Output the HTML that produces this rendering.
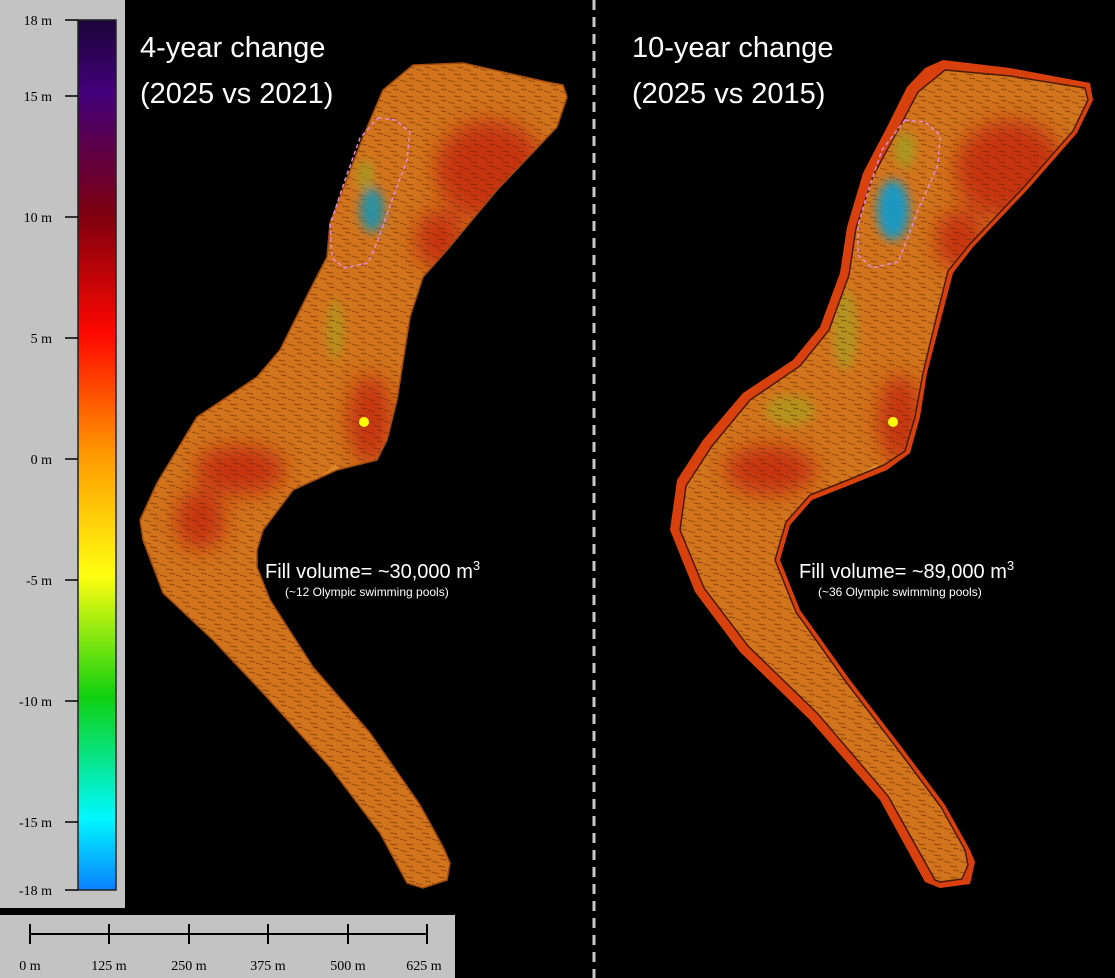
<!DOCTYPE html>
<html><head><meta charset="utf-8"><style>
html,body{margin:0;padding:0;background:#000;}
svg{display:block}
</style></head><body>
<svg width="1115" height="978" viewBox="0 0 1115 978" xmlns="http://www.w3.org/2000/svg" font-family="Liberation Serif, serif">
<defs>
<linearGradient id="cb" x1="0" y1="0" x2="0" y2="1">
<stop offset="0" stop-color="#1c0438"/>
<stop offset="0.083" stop-color="#42007a"/>
<stop offset="0.222" stop-color="#7c0010"/>
<stop offset="0.361" stop-color="#ff0800"/>
<stop offset="0.5" stop-color="#ff9a00"/>
<stop offset="0.639" stop-color="#ffff10"/>
<stop offset="0.778" stop-color="#10d010"/>
<stop offset="0.917" stop-color="#00f8ff"/>
<stop offset="1" stop-color="#0a80ff"/>
</linearGradient>
<filter id="bl" x="-50%" y="-50%" width="200%" height="200%"><feGaussianBlur stdDeviation="10"/></filter>
<filter id="bs" x="-50%" y="-50%" width="200%" height="200%"><feGaussianBlur stdDeviation="5"/></filter>
<pattern id="tex" width="16" height="11" patternUnits="userSpaceOnUse">
<path d="M0 3 L7 5 M6 8 L13 9 M9 1 L15 2" stroke="#5a2406" stroke-width="0.9" opacity="0.55"/>
</pattern>
<clipPath id="cl"><path id="Lp" d="M413 65 L463 63 L547 82 L563 85 L567 97 L557 127 L497 190 L447 250 L423 277 L410 317 L397 400 L387 440 L377 460 L337 470 L293 490 L263 530 L257 550 L257 567 L270 600 L313 667 L370 733 L420 805 L443 847 L450 863 L447 880 L423 888 L407 883 L380 833 L330 767 L263 693 L213 640 L163 593 L143 540 L140 520 L157 483 L197 417 L257 377 L280 350 L310 290 L327 257 L330 223 L363 137 L383 90 Z"/></clipPath>
<clipPath id="cr"><path id="Rp" d="M945 70 L1010 76 L1085 88 L1088 100 L1073 131 L1024 187 L970 244 L948 271 L935 323 L923 373 L915 417 L905 451 L884 465 L848 480 L810 495 L786 522 L775 560 L796 612 L846 682 L896 747 L941 807 L965 850 L968 865 L962 879 L940 882 L935 880 L888 796 L818 714 L748 646 L704 588 L680 530 L686 486 L712 446 L750 400 L800 366 L829 330 L849 275 L856 228 L873 176 L898 130 L918 92 Z"/></clipPath>
</defs>
<rect width="1115" height="978" fill="#000"/>
<!-- left panel -->
<rect x="0" y="0" width="125" height="908" fill="#c3c3c3"/>
<rect x="78" y="20" width="38" height="870" fill="url(#cb)" stroke="#222" stroke-width="1.5"/>
<g stroke="#000" stroke-width="1.5">
<line x1="65" y1="20" x2="78" y2="20"/><line x1="65" y1="96" x2="78" y2="96"/><line x1="65" y1="217" x2="78" y2="217"/>
<line x1="65" y1="338" x2="78" y2="338"/><line x1="65" y1="459" x2="78" y2="459"/><line x1="65" y1="580" x2="78" y2="580"/>
<line x1="65" y1="701" x2="78" y2="701"/><line x1="65" y1="822" x2="78" y2="822"/><line x1="65" y1="890" x2="78" y2="890"/>
</g>
<g font-size="14" fill="#000" text-anchor="end">
<text x="52" y="25">18 m</text><text x="52" y="101">15 m</text><text x="52" y="222">10 m</text>
<text x="52" y="343">5 m</text><text x="52" y="464">0 m</text><text x="52" y="585">-5 m</text>
<text x="52" y="706">-10 m</text><text x="52" y="827">-15 m</text><text x="52" y="895">-18 m</text>
</g>
<!-- scale bar -->
<rect x="0" y="915" width="455" height="63" fill="#c3c3c3"/>
<g stroke="#000" stroke-width="2">
<line x1="30" y1="934" x2="428" y2="934"/>
<line x1="30" y1="924" x2="30" y2="944"/><line x1="109" y1="924" x2="109" y2="944"/><line x1="189" y1="924" x2="189" y2="944"/>
<line x1="268" y1="924" x2="268" y2="944"/><line x1="348" y1="924" x2="348" y2="944"/><line x1="427" y1="924" x2="427" y2="944"/>
</g>
<g font-size="14" fill="#000" text-anchor="middle">
<text x="30" y="970">0 m</text><text x="109" y="970">125 m</text><text x="189" y="970">250 m</text>
<text x="268" y="970">375 m</text><text x="348" y="970">500 m</text><text x="424" y="970">625 m</text>
</g>
<!-- divider -->
<line x1="594" y1="0" x2="594" y2="978" stroke="#c8c8c8" stroke-width="3" stroke-dasharray="10,7"/>
<!-- left shape -->
<use href="#Lp" fill="#d2741c"/>
<g clip-path="url(#cl)">
<g filter="url(#bl)" fill="#c42c10" opacity="0.85">
<ellipse cx="490" cy="170" rx="55" ry="50"/>
<ellipse cx="440" cy="240" rx="25" ry="30"/>
<ellipse cx="370" cy="420" rx="22" ry="45"/>
<ellipse cx="240" cy="470" rx="45" ry="25"/>
<ellipse cx="200" cy="520" rx="25" ry="30"/>
</g>
<g filter="url(#bs)">
<ellipse cx="335" cy="330" rx="8" ry="30" fill="#a8a020" opacity="0.7"/>
<ellipse cx="300" cy="540" rx="30" ry="20" fill="#e08a30" opacity="0.8"/>
</g>
<use href="#Lp" fill="url(#tex)"/>
<path d="M340 470 Q300 500 262 560" stroke="#e0902c" stroke-width="14" fill="none" opacity="0.8"/>
</g>
<use href="#Lp" fill="none" stroke="#a04a0e" stroke-width="1.5"/>
<g filter="url(#bs)">
<ellipse cx="372" cy="210" rx="12" ry="22" fill="#2a90a0"/>
<ellipse cx="365" cy="175" rx="8" ry="15" fill="#a0a020" opacity="0.8"/>
</g>
<path d="M378 118 L395 120 L410 132 L407 160 L392 200 L378 240 L368 263 L345 268 L332 258 L330 225 L345 180 L360 138 Z" fill="none" stroke="#e58ad8" stroke-width="1.5" stroke-dasharray="4,3"/>
<circle cx="364" cy="422" r="5" fill="#ffff00"/>
<!-- right shape -->
<path d="M943 60 L1010 68 L1090 83 L1093 100 L1077 133 L1027 190 L973 247 L953 273 L940 323 L927 373 L920 417 L910 453 L887 470 L850 485 L812 500 L790 525 L780 560 L800 610 L850 680 L900 745 L945 805 L970 850 L975 862 L970 884 L940 888 L925 882 L880 800 L810 720 L740 652 L695 592 L670 530 L677 480 L703 440 L743 393 L793 360 L820 327 L840 273 L847 227 L863 173 L887 127 L907 87 L925 68 Z" fill="#d8400e"/>
<use href="#Rp" fill="#d2741c"/>
<g clip-path="url(#cr)">
<g filter="url(#bl)" fill="#c42c10" opacity="0.85">
<ellipse cx="1010" cy="170" rx="55" ry="50"/>
<ellipse cx="960" cy="240" rx="25" ry="30"/>
<ellipse cx="900" cy="420" rx="22" ry="45"/>
<ellipse cx="770" cy="470" rx="45" ry="25"/>
</g>
<g filter="url(#bs)">
<ellipse cx="845" cy="330" rx="12" ry="40" fill="#a8a020" opacity="0.75"/>
<ellipse cx="790" cy="410" rx="25" ry="15" fill="#a8a020" opacity="0.7"/>
<ellipse cx="830" cy="540" rx="30" ry="20" fill="#e08a30" opacity="0.8"/>
</g>
<use href="#Rp" fill="url(#tex)"/>
<path d="M880 470 Q830 500 790 560" stroke="#e0902c" stroke-width="14" fill="none" opacity="0.8"/>
</g>
<use href="#Rp" fill="none" stroke="#4a1a06" stroke-width="1.5"/>
<g filter="url(#bs)">
<ellipse cx="893" cy="210" rx="16" ry="30" fill="#1a98c0"/>
<ellipse cx="905" cy="150" rx="10" ry="18" fill="#a0a020" opacity="0.8"/>
</g>
<path d="M905 120 L925 122 L940 135 L938 165 L918 210 L905 245 L898 262 L872 268 L858 255 L858 225 L870 185 L882 150 Z" fill="none" stroke="#e58ad8" stroke-width="1.5" stroke-dasharray="4,3"/>
<circle cx="893" cy="422" r="5" fill="#ffff00"/>
<!-- texts -->
<g font-family="Liberation Sans, sans-serif" fill="#fff">
<text x="140" y="57" font-size="29">4-year change</text>
<text x="140" y="103" font-size="29">(2025 vs 2021)</text>
<text x="632" y="57" font-size="29">10-year change</text>
<text x="632" y="103" font-size="29">(2025 vs 2015)</text>
<text x="265" y="578" font-size="20">Fill volume= ~30,000 m<tspan font-size="13" dy="-8">3</tspan></text>
<text x="285" y="596" font-size="12">(~12 Olympic swimming pools)</text>
<text x="799" y="578" font-size="20">Fill volume= ~89,000 m<tspan font-size="13" dy="-8">3</tspan></text>
<text x="818" y="596" font-size="12">(~36 Olympic swimming pools)</text>
</g>
</svg>
</body></html>
